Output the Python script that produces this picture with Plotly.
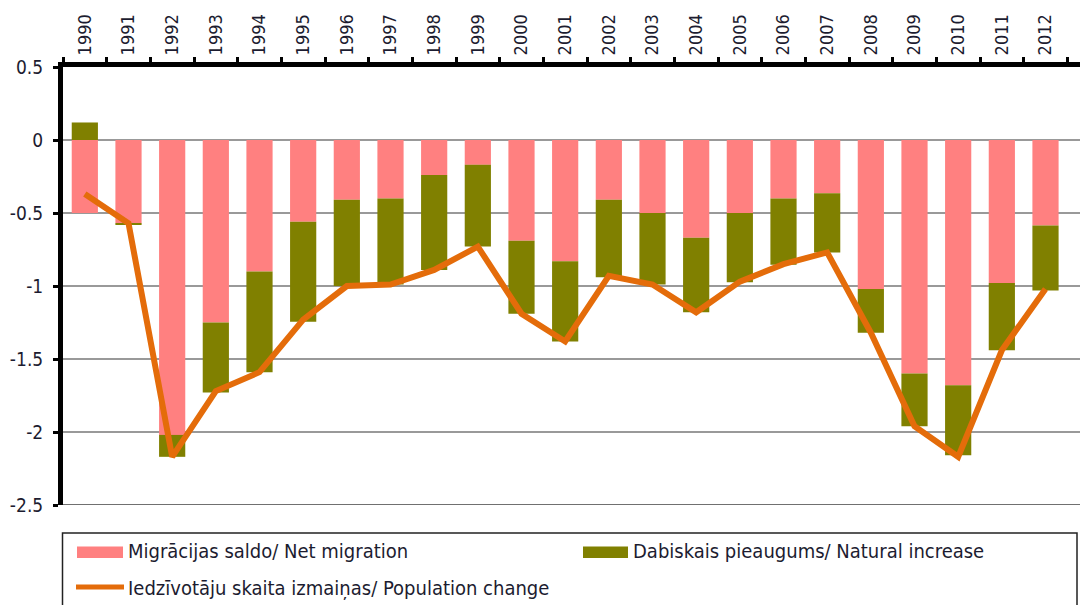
import plotly.graph_objects as go

years = [str(y) for y in range(1990, 2013)]
net_migration = [-0.50, -0.57, -2.02, -1.25, -0.90, -0.56, -0.41, -0.40, -0.24, -0.17,
                 -0.69, -0.83, -0.41, -0.50, -0.67, -0.50, -0.40, -0.365, -1.02, -1.60,
                 -1.68, -0.98, -0.585]
natural_increase = [0.12, -0.01, -0.15, -0.48, -0.69, -0.685, -0.59, -0.59, -0.65, -0.56,
                    -0.50, -0.55, -0.53, -0.49, -0.51, -0.475, -0.455, -0.405, -0.30, -0.36,
                    -0.48, -0.46, -0.445]
population_change = [-0.37, -0.57, -2.17, -1.72, -1.59, -1.23, -1.00, -0.99, -0.89, -0.73,
                     -1.19, -1.38, -0.93, -0.99, -1.18, -0.97, -0.85, -0.77, -1.32, -1.96,
                     -2.17, -1.44, -1.02]
y_ticks = [0.5, 0, -0.5, -1, -1.5, -2, -2.5]
y_tick_text = ["0.5", "0", "-0.5", "-1", "-1.5", "-2", "-2.5"]
series_names = ["Migrācijas saldo/ Net migration",
                "Dabiskais pieaugums/ Natural increase",
                "Iedzīvotāju skaita izmaiņas/ Population change"]
colors = ["#FF8080", "#808000", "#E46C0A"]

FONT = "DejaVu Sans Condensed, DejaVu Sans, sans-serif"
TXT = "#1c1c30"

W, H = 1080, 605
L, R, T, B = 63, 0, 67, 100
PW, PH = W - L - R, H - T - B


def px(x):
    return (x - L) / PW


def py(y):
    return (H - B - y) / PH


fig = go.Figure()
fig.add_trace(go.Bar(x=years, y=net_migration, name=series_names[0],
                     marker=dict(color=colors[0], line=dict(width=0))))
fig.add_trace(go.Bar(x=years, y=natural_increase, name=series_names[1],
                     marker=dict(color=colors[1], line=dict(width=0))))
fig.add_trace(go.Scatter(x=years, y=population_change, mode="lines", name=series_names[2],
                         line=dict(color=colors[2], width=6)))

shapes = [
    dict(type="line", xref="paper", yref="y", x0=0, x1=1, y0=-2.5, y1=-2.5,
         line=dict(color="#707070", width=2), layer="below"),
    dict(type="rect", xref="paper", yref="paper", x0=px(62.5), x1=px(1077), y0=py(640), y1=py(533),
         line=dict(color="#222222", width=1.5), fillcolor="rgba(0,0,0,0)"),
    dict(type="rect", xref="paper", yref="paper", x0=px(77), x1=px(123), y0=py(558), y1=py(546.5),
         line=dict(width=0), fillcolor=colors[0]),
    dict(type="rect", xref="paper", yref="paper", x0=px(583), x1=px(628), y0=py(558), y1=py(546.5),
         line=dict(width=0), fillcolor=colors[1]),
    dict(type="line", xref="paper", yref="paper", x0=px(76), x1=px(124), y0=py(587), y1=py(587),
         line=dict(color=colors[2], width=5)),
]
annotations = [
    dict(text=series_names[0], xref="paper", yref="paper", x=px(126), y=py(551),
         xanchor="left", yanchor="middle", showarrow=False, font=dict(family=FONT, size=20, color=TXT)),
    dict(text=series_names[1], xref="paper", yref="paper", x=px(631), y=py(551),
         xanchor="left", yanchor="middle", showarrow=False, font=dict(family=FONT, size=20, color=TXT)),
    dict(text=series_names[2], xref="paper", yref="paper", x=px(126), y=py(588),
         xanchor="left", yanchor="middle", showarrow=False, font=dict(family=FONT, size=20, color=TXT)),
]

fig.update_layout(
    width=W, height=H,
    margin=dict(l=L, r=R, t=T, b=B, autoexpand=False),
    paper_bgcolor="white", plot_bgcolor="white",
    barmode="relative", bargap=0.4,
    font=dict(family=FONT, color=TXT),
    showlegend=False,
    shapes=shapes, annotations=annotations,
)

fig.update_xaxes(side="top", type="category", range=[-0.5, 22.79],
                 tickangle=-90, tickfont=dict(size=18, family=FONT, color=TXT),
                 tickson="boundaries", ticks="outside", ticklen=5, tickwidth=3, tickcolor="black",
                 ticklabelstandoff=3,
                 showline=True, linewidth=5, linecolor="black", showgrid=False, zeroline=False)
fig.update_yaxes(range=[-2.5, 0.5], tickvals=y_ticks, ticktext=y_tick_text,
                 tickfont=dict(size=19, family=FONT, color=TXT),
                 ticks="outside", ticklen=5, tickwidth=3, tickcolor="black",
                 ticklabelstandoff=6,
                 showline=True, linewidth=5, linecolor="black",
                 showgrid=True, gridcolor="#999999", gridwidth=1.5, zeroline=False)

fig.write_html("out.html", config={"displayModeBar": False},
               post_script="document.body.style.margin='0';document.body.style.overflow='hidden';")
